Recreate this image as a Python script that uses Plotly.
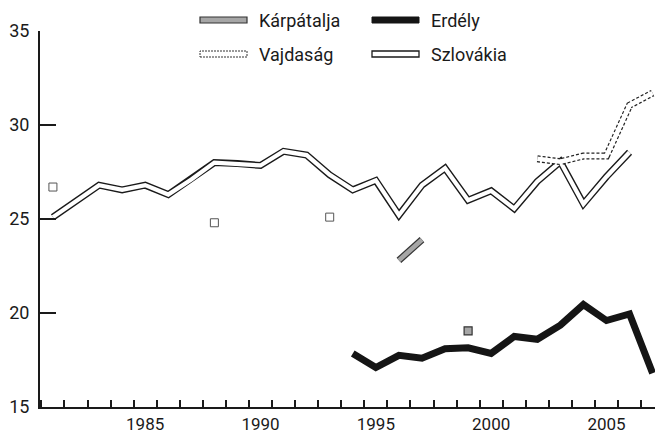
import plotly.graph_objects as go

years = list(range(1981, 2008))

karpatalja = {1996: 22.8, 1997: 23.9, 1999: 19.05}
erdely = {1994: 17.85, 1995: 17.1, 1996: 17.75, 1997: 17.6, 1998: 18.1, 1999: 18.15,
          2000: 17.85, 2001: 18.75, 2002: 18.6, 2003: 19.35, 2004: 20.45, 2005: 19.6,
          2006: 19.95, 2007: 16.8}
vajdasag = {1981: 26.7, 1988: 24.8, 1993: 25.1, 2002: 28.2, 2003: 28.05, 2004: 28.35,
            2005: 28.35, 2006: 31.05, 2007: 31.7}
szlovakia = {1981: 25.1, 1982: 25.95, 1983: 26.8, 1984: 26.55, 1985: 26.8, 1986: 26.3,
             1987: 27.1, 1988: 28.0, 1989: 27.95, 1990: 27.85, 1991: 28.6, 1992: 28.4,
             1993: 27.35, 1994: 26.55, 1995: 27.05, 1996: 25.2, 1997: 26.8, 1998: 27.7,
             1999: 26.0, 2000: 26.5, 2001: 25.55, 2002: 27.0, 2003: 28.05, 2004: 25.8,
             2005: 27.25, 2006: 28.55}

y_ticks = [15, 20, 25, 30, 35]
x_labels = [1985, 1990, 1995, 2000, 2005]

FONT = "Roboto, Liberation Sans, sans-serif"


def series(d):
    return [d.get(y) for y in years]


def isolated(d):
    xs, ys = [], []
    for y in years:
        if y in d and (y - 1) not in d and (y + 1) not in d:
            xs.append(y)
            ys.append(d[y])
    return xs, ys


fig = go.Figure()

# Szlovákia: double line (black outline + white core)
fig.add_trace(go.Scatter(x=years, y=series(szlovakia), mode="lines",
                         line=dict(color="#1a1a1a", width=7), connectgaps=False,
                         showlegend=False, hoverinfo="skip"))
fig.add_trace(go.Scatter(x=years, y=series(szlovakia), mode="lines",
                         line=dict(color="white", width=4.2), connectgaps=False,
                         name="Szlovákia", showlegend=False))

# Vajdaság: dashed double line
fig.add_trace(go.Scatter(x=years, y=series(vajdasag), mode="lines",
                         line=dict(color="#222", width=7, dash="3px,2px"), connectgaps=False,
                         showlegend=False, hoverinfo="skip"))
fig.add_trace(go.Scatter(x=years, y=series(vajdasag), mode="lines",
                         line=dict(color="white", width=4.6), connectgaps=False,
                         name="Vajdaság", showlegend=False))
vx, vy = isolated(vajdasag)
fig.add_trace(go.Scatter(x=vx, y=vy, mode="markers",
                         marker=dict(symbol="square", size=8, color="white",
                                     line=dict(color="#555", width=1)),
                         name="Vajdaság", showlegend=False))

# Kárpátalja
fig.add_trace(go.Scatter(x=years, y=series(karpatalja), mode="lines",
                         line=dict(color="#333", width=7), connectgaps=False,
                         showlegend=False, hoverinfo="skip"))
fig.add_trace(go.Scatter(x=years, y=series(karpatalja), mode="lines",
                         line=dict(color="#a6a6a6", width=4.6), connectgaps=False,
                         name="Kárpátalja", showlegend=False))
kx, ky = isolated(karpatalja)
fig.add_trace(go.Scatter(x=kx, y=ky, mode="markers",
                         marker=dict(symbol="square", size=8, color="#a6a6a6",
                                     line=dict(color="#333", width=1.2)),
                         name="Kárpátalja", showlegend=False))

# Erdély
fig.add_trace(go.Scatter(x=years, y=series(erdely), mode="lines",
                         line=dict(color="#151515", width=7), connectgaps=False,
                         name="Erdély", showlegend=False))

# The page body has an 8px margin, so the figure is offset by 8px.
OFF = 8
FIG_W, FIG_H = 663 - OFF, 436 - OFF
L, T, W, H = 40 - OFF, 31 - OFF, 623, 376


def px(x):
    return (x - OFF - L) / W


def py(y):
    return (T + H - (y - OFF)) / H


legend_items = [
    ("Kárpátalja", 200, 20, dict(fillcolor="#a6a6a6", line=dict(color="#333", width=1.2))),
    ("Erdély", 372, 20, dict(fillcolor="#151515", line=dict(color="#151515", width=1))),
    ("Vajdaság", 200, 54, dict(fillcolor="white", line=dict(color="#333", width=1, dash="2px,1px"))),
    ("Szlovákia", 372, 54, dict(fillcolor="white", line=dict(color="#1a1a1a", width=1.3))),
]
for text, x0, yc, style in legend_items:
    fig.add_shape(type="rect", xref="paper", yref="paper",
                  x0=px(x0), x1=px(x0 + 47), y0=py(yc + 3), y1=py(yc - 3), **style)
    fig.add_annotation(text=text, xref="paper", yref="paper", x=px(x0 + 57), y=py(yc + 1),
                       xanchor="left", yanchor="middle", showarrow=False,
                       font=dict(family=FONT, size=18, color="#1a1a1a"))

fig.update_layout(
    width=FIG_W, height=FIG_H,
    margin=dict(l=L, r=FIG_W - L - W, t=T, b=FIG_H - T - H, pad=0, autoexpand=False),
    paper_bgcolor="white", plot_bgcolor="white",
    showlegend=False,
    font=dict(family=FONT, size=18, color="#1a1a1a"),
)
fig.update_xaxes(range=[1980.44, 2007.45], showgrid=False, zeroline=False, automargin=False,
                 showline=True, linecolor="#1a1a1a", linewidth=2,
                 tickmode="array", tickvals=x_labels, ticktext=[str(v) for v in x_labels],
                 ticks="", ticklen=0, ticklabelstandoff=1,
                 minor=dict(tick0=0.5, dtick=1, ticks="inside", ticklen=7, tickwidth=2,
                            tickcolor="#1a1a1a", showgrid=False),
                 tickfont=dict(family=FONT, size=17, color="#1a1a1a"))
fig.update_yaxes(range=[15, 35], showgrid=False, zeroline=False, automargin=False,
                 showline=True, linecolor="#1a1a1a", linewidth=2,
                 tickmode="array", tickvals=y_ticks,
                 ticks="inside", ticklen=16, tickwidth=2, tickcolor="#1a1a1a",
                 ticklabelstandoff=5,
                 tickfont=dict(family=FONT, size=18, color="#1a1a1a"))

fig.write_html("out.html")
